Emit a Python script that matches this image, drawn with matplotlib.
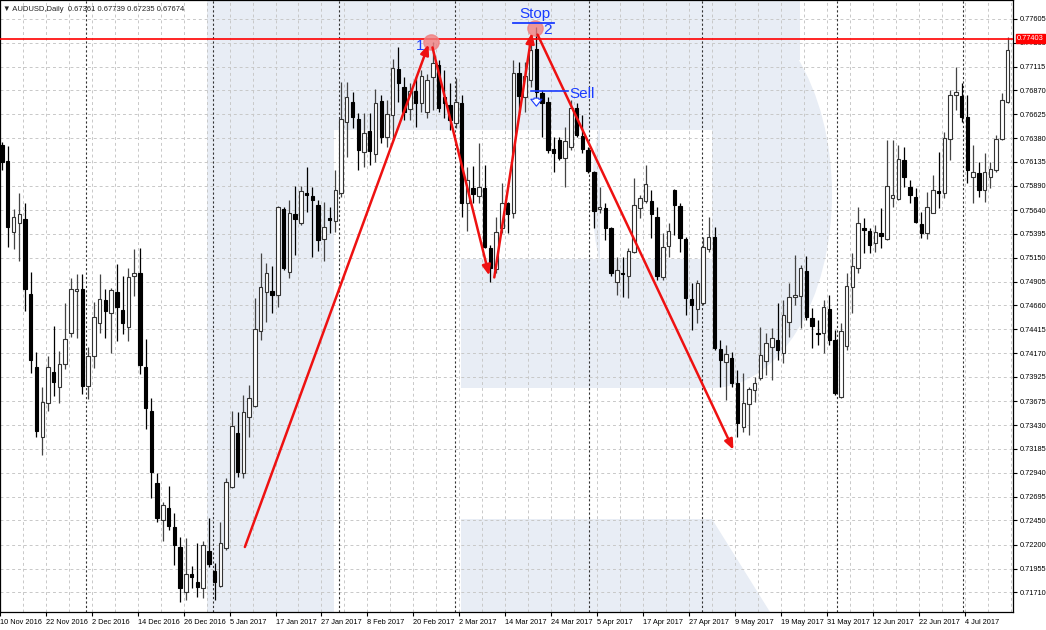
import matplotlib
matplotlib.use("Agg")
import matplotlib.pyplot as plt
import numpy as np
from matplotlib.patches import Rectangle, Polygon, Ellipse

plt.rcParams['font.family'] = ['Liberation Sans', 'DejaVu Sans']

# AUDUSD daily candles (O, H, L, C)
opens = [.7631, .7614, .7542, .7551, .7555, .7478, .7403, .7331, .7366, .7398,
         .7382, .7406, .7438, .7481, .7483, .7383, .7414, .7448, .7472, .7458,
         .7480, .7461, .7444, .7496, .7499, .7403, .7358, .7283, .7245, .7258,
         .7238, .7218, .7171, .7190, .7182, .7176, .7214, .7193, .7178, .7217,
         .7279, .7335, .7294, .7351, .7363, .7440, .7480, .7481, .7477, .7565,
         .7500, .7560, .7551, .7582, .7578, .7569, .7534, .7556, .7553, .7582,
         .7655, .7675, .7658, .7624, .7645, .7622, .7676, .7639, .7662, .7709,
         .7691, .7668, .7686, .7674, .7665, .7701, .7713, .7680, .7672, .7654,
         .7674, .7571, .7587, .7579, .7587, .7525, .7503, .7546, .7571, .7561,
         .7705, .7680, .7698, .7730, .7684, .7675, .7627, .7636, .7618, .7629,
         .7669, .7640, .7626, .7603, .7565, .7566, .7546, .7490, .7499, .7496,
         .7521, .7566, .7573, .7573, .7557, .7495, .7527, .7585, .7568, .7534,
         .7473, .7462, .7469, .7524, .7536, .7421, .7408, .7412, .7386, .7341,
         .7365, .7379, .7391, .7409, .7423, .7430, .7417, .7449, .7475, .7476,
         .7501, .7453, .7438, .7438, .7462, .7430, .7372, .7424, .7485, .7504,
         .7546, .7543, .7530, .7540, .7534, .7576, .7575, .7616, .7588, .7577,
         .7550, .7540, .7561, .7584, .7582, .7637, .7682, .7681, .7660, .7598,
         .7602, .7585, .7598, .7605, .7637, .7675]
highs = [.7634, .7630, .7565, .7582, .7571, .7500, .7418, .7382, .7414, .7445,
         .7419, .7469, .7494, .7498, .7498, .7423, .7470, .7498, .7483, .7484,
         .7509, .7496, .7505, .7524, .7525, .7431, .7371, .7294, .7264, .7280,
         .7253, .7228, .7227, .7198, .7222, .7224, .7248, .7201, .7243, .7289,
         .7358, .7356, .7374, .7384, .7474, .7520, .7510, .7507, .7568, .7567,
         .7574, .7589, .7589, .7608, .7588, .7574, .7572, .7567, .7605, .7696,
         .7696, .7685, .7664, .7664, .7664, .7689, .7682, .7677, .7719, .7732,
         .7701, .7695, .7701, .7708, .7704, .7737, .7718, .7708, .7695, .7700,
         .7682, .7608, .7609, .7633, .7610, .7528, .7557, .7592, .7572, .7718,
         .7716, .7716, .7744, .7752, .7687, .7680, .7639, .7639, .7649, .7677,
         .7674, .7662, .7629, .7604, .7588, .7571, .7547, .7516, .7516, .7525,
         .7597, .7580, .7610, .7585, .7567, .7540, .7551, .7586, .7571, .7536,
         .7489, .7492, .7536, .7557, .7547, .7430, .7425, .7418, .7400, .7397,
         .7382, .7392, .7444, .7438, .7443, .7469, .7472, .7489, .7518, .7508,
         .7517, .7463, .7451, .7472, .7477, .7441, .7448, .7499, .7520, .7567,
         .7556, .7546, .7549, .7566, .7636, .7636, .7631, .7629, .7595, .7587,
         .7562, .7583, .7600, .7624, .7644, .7687, .7711, .7695, .7682, .7631,
         .7613, .7623, .7613, .7641, .7684, .7742]
lows = [.7605, .7526, .7524, .7512, .7460, .7397, .7331, .7312, .7357, .7373,
        .7366, .7401, .7434, .7433, .7375, .7370, .7402, .7438, .7433, .7417,
        .7429, .7437, .7429, .7476, .7396, .7339, .7268, .7243, .7224, .7235,
        .7199, .7161, .7163, .7176, .7166, .7165, .7197, .7163, .7177, .7215,
        .7278, .7290, .7289, .7331, .7362, .7430, .7449, .7458, .7464, .7502,
        .7494, .7518, .7549, .7562, .7516, .7522, .7512, .7540, .7541, .7577,
        .7619, .7648, .7605, .7608, .7610, .7613, .7633, .7629, .7636, .7675,
        .7657, .7657, .7649, .7665, .7659, .7667, .7665, .7659, .7646, .7648,
        .7557, .7543, .7571, .7571, .7525, .7490, .7499, .7540, .7540, .7556,
        .7664, .7665, .7691, .7677, .7639, .7623, .7603, .7616, .7588, .7626,
        .7639, .7623, .7602, .7546, .7561, .7533, .7496, .7477, .7475, .7474,
        .7520, .7556, .7571, .7535, .7492, .7492, .7516, .7538, .7521, .7456,
        .7441, .7448, .7466, .7521, .7420, .7382, .7369, .7382, .7331, .7336,
        .7333, .7367, .7389, .7394, .7389, .7410, .7407, .7434, .7466, .7443,
        .7451, .7422, .7425, .7417, .7425, .7374, .7371, .7420, .7458, .7499,
        .7520, .7520, .7521, .7525, .7533, .7567, .7574, .7588, .7571, .7551,
        .7535, .7534, .7561, .7566, .7576, .7616, .7667, .7655, .7592, .7571,
        .7577, .7572, .7587, .7603, .7636, .7674]
closes = [.7613, .7547, .7557, .7560, .7483, .7410, .7337, .7367, .7403, .7387,
          .7406, .7431, .7483, .7483, .7383, .7414, .7454, .7473, .7460, .7482,
          .7464, .7448, .7495, .7499, .7405, .7361, .7295, .7247, .7261, .7239,
          .7220, .7176, .7190, .7187, .7177, .7220, .7200, .7182, .7222, .7285,
          .7342, .7295, .7356, .7371, .7442, .7485, .7499, .7477, .7567, .7504,
          .7561, .7555, .7584, .7580, .7574, .7533, .7547, .7554, .7585, .7658,
          .7680, .7660, .7626, .7643, .7625, .7674, .7639, .7663, .7710, .7695,
          .7665, .7686, .7674, .7702, .7698, .7715, .7669, .7674, .7657, .7675,
          .7571, .7595, .7581, .7588, .7526, .7504, .7542, .7571, .7560, .7705,
          .7681, .7702, .7729, .7685, .7674, .7626, .7623, .7618, .7635, .7669,
          .7641, .7627, .7604, .7563, .7567, .7546, .7499, .7502, .7498, .7522,
          .7569, .7576, .7591, .7560, .7496, .7526, .7543, .7569, .7535, .7474,
          .7466, .7489, .7526, .7536, .7422, .7410, .7416, .7386, .7345, .7366,
          .7380, .7386, .7415, .7427, .7433, .7420, .7456, .7475, .7477, .7504,
          .7454, .7445, .7437, .7464, .7430, .7376, .7440, .7486, .7507, .7551,
          .7544, .7528, .7542, .7537, .7589, .7580, .7617, .7598, .7580, .7552,
          .7540, .7567, .7585, .7582, .7638, .7682, .7685, .7660, .7605, .7603,
          .7585, .7603, .7606, .7637, .7677, .7729]

date_labels = ["10 Nov 2016", "22 Nov 2016", "2 Dec 2016", "14 Dec 2016", "26 Dec 2016",
               "5 Jan 2017", "17 Jan 2017", "27 Jan 2017", "8 Feb 2017", "20 Feb 2017",
               "2 Mar 2017", "14 Mar 2017", "24 Mar 2017", "5 Apr 2017", "17 Apr 2017",
               "27 Apr 2017", "9 May 2017", "19 May 2017", "31 May 2017", "12 Jun 2017",
               "22 Jun 2017", "4 Jul 2017"]
month_starts = [14.7, 36.7, 58.7, 78.8, 102.1, 121.9, 145.3, 167.2]
price_ticks = [0.77605, 0.77360, 0.77115, 0.76870, 0.76625, 0.76380, 0.76135, 0.75890,
               0.75640, 0.75395, 0.75150, 0.74905, 0.74660, 0.74415, 0.74170, 0.73925,
               0.73675, 0.73430, 0.73185, 0.72940, 0.72695, 0.72450, 0.72200, 0.71955,
               0.71710]
level = 0.77403

fig = plt.figure(figsize=(10.46, 6.30), dpi=100)
ax = fig.add_axes([0, 1 - 612 / 630, 1013 / 1046, 612 / 630])

# watermark "R" drawn in pixel space of the axes
wm = fig.add_axes(ax.get_position(), zorder=-1)
wm.set_xlim(0, 1013)
wm.set_ylim(612, 0)
wm.axis("off")
shade = "#e8edf5"
wm.add_patch(Rectangle((207, 0), 127, 612, color=shade, lw=0))
wm.add_patch(Rectangle((334, 0), 378, 130, color=shade, lw=0))
wm.add_patch(Rectangle((461, 259), 251, 129, color=shade, lw=0))
wm.add_patch(Ellipse((712, 194), 240, 388, color=shade, lw=0))
wm.add_patch(Rectangle((700, 0), 100, 60, color=shade, lw=0))
wm.add_patch(Rectangle((600, 130), 112, 129, color="white", lw=0))
wm.add_patch(Polygon([(461, 519), (712, 519), (770, 612), (461, 612)], color=shade, lw=0))
ax.patch.set_alpha(0)

n = len(opens)
x = np.arange(n)
o, h, l, c = map(np.array, (opens, highs, lows, closes))
up = c >= o

ax.set_xlim(-0.35, n - 0.05)
ax.set_ylim(0.77800 - 612 * 0.0001028, 0.77800)

# grid
for gx in np.arange(3.6, n, 4):
    ax.axvline(gx, color="#c8c8c8", lw=0.7, ls=(0, (3, 3)), zorder=0)
for gy in price_ticks:
    ax.axhline(gy, color="#c8c8c8", lw=0.7, ls=(0, (3, 3)), zorder=0)
for ms in month_starts:
    ax.axvline(ms, color="#333333", lw=0.8, ls=(0, (2, 2)), zorder=0.5)

# candles
ax.vlines(x[up], l[up], h[up], color="#444444", lw=0.9, zorder=2)
ax.vlines(x[~up], l[~up], h[~up], color="black", lw=0.9, zorder=2)
body_lo = np.minimum(o, c)
body_h = np.maximum(np.abs(c - o), 0.00003)
ax.bar(x[up], body_h[up], bottom=body_lo[up], width=0.6, color="white",
       edgecolor="#333333", lw=0.8, zorder=3)
ax.bar(x[~up], body_h[~up], bottom=body_lo[~up], width=0.6, color="black",
       edgecolor="black", lw=0.8, zorder=3)

# resistance line
ax.axhline(level, color="red", lw=1.2, zorder=4)

# pattern arrows
arrow_kw = dict(arrowstyle="-|>,head_length=0.6,head_width=0.25", color="#ee1111", lw=1.8)
legs = [((42.1, 0.7215), (74.4, 0.7737)),
        ((74.8, 0.7734), (84.9, 0.7494)),
        ((85.6, 0.7492), (92.3, 0.7749)),
        ((93.0, 0.7747), (127.5, 0.7315))]
for (x0, y0), (x1, y1) in legs:
    ax.annotate("", xy=(x1, y1), xytext=(x0, y0), arrowprops=arrow_kw, zorder=6)
for px, py in [(74.6, 0.7737), (92.7, 0.7751)]:
    ax.plot(px, py, "o", ms=11, color="#f08080", alpha=0.8, zorder=5)

blue = "#1a3cff"
ax.text(72.8, 0.7733, "1", color=blue, fontsize=11, ha="center", va="center", zorder=7)
ax.text(95.0, 0.7749, "2", color=blue, fontsize=11, ha="center", va="center", zorder=7)
ax.text(92.8, 0.7766, "Stop", color=blue, fontsize=11, ha="center", va="center", zorder=7)
ax.plot([89.0, 96.0], [0.77565, 0.77565], color=blue, lw=1.3, zorder=7)
ax.plot([92.0, 98.5], [0.7686, 0.7686], color=blue, lw=1.2, zorder=7)
ax.text(98.7, 0.7683, "Sell", color=blue, fontsize=11, ha="left", va="center", zorder=7)
ax.annotate("", xy=(93.0, 0.7668), xytext=(93.0, 0.7682),
            arrowprops=dict(arrowstyle="simple,head_width=0.8,tail_width=0.35",
                            fc="white", ec=blue, lw=0.8), zorder=7)

# axes styling
ax.yaxis.tick_right()
ax.set_yticks(price_ticks)
ax.set_yticklabels([f"{v:.5f}" for v in price_ticks], fontsize=5.3)
ax.tick_params(axis="y", length=3, pad=2)
label_pos = [-0.3] + [8 * k - 0.4 for k in range(1, len(date_labels))]
ax.set_xticks(label_pos)
ax.set_xticklabels(date_labels, fontsize=5.3, ha="left")
ax.tick_params(axis="x", length=3, pad=2)
for sp in ax.spines.values():
    sp.set_linewidth(0.9)

ax.text(1.004, level, f"{level:.5f}", transform=ax.get_yaxis_transform(),
        fontsize=5.3, color="white", ha="left", va="center",
        bbox=dict(boxstyle="square,pad=0.15", fc="red", ec="red"), zorder=10,
        clip_on=False)
ax.text(0.003, 0.985, "\u25bc AUDUSD,Daily  0.67361 0.67739 0.67235 0.67674",
        transform=ax.transAxes, fontsize=5.5, ha="left", va="center", color="#222222")

fig.savefig("out.png", dpi=100)
